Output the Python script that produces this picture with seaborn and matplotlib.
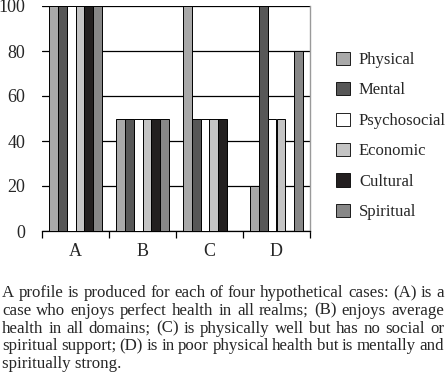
import matplotlib
matplotlib.use("Agg")
import matplotlib.pyplot as plt
import seaborn as sns
import pandas as pd

cases = ["A", "B", "C", "D"]
domains = ["Physical", "Mental", "Psychosocial", "Economic", "Cultural", "Spiritual"]
physical = [100, 50, 100, 20]
mental = [100, 50, 50, 100]
psychosocial = [100, 50, 50, 50]
economic = [100, 50, 50, 50]
cultural = [100, 50, 50, 0]
spiritual = [100, 50, 0, 80]
colors = ["#a9a9a9", "#575757", "#ffffff", "#c4c4c4", "#231f20", "#878787"]
y_ticks = [0, 20, 40, 60, 80, 100]

caption = [
    "A profile is produced for each of four hypothetical cases: (A) is a",
    "case who enjoys perfect health in all realms; (B) enjoys average",
    "health in all domains; (C) is physically well but has no social or",
    "spiritual support; (D) is in poor physical health but is mentally and",
    "spiritually strong.",
]

values = [physical, mental, psychosocial, economic, cultural, spiritual]
rows = []
for dom, vals in zip(domains, values):
    for case, v in zip(cases, vals):
        rows.append({"case": case, "domain": dom, "score": v})
df = pd.DataFrame(rows)

sns.set_style("white")
plt.rcParams["font.family"] = ["Liberation Serif", "DejaVu Serif"]
plt.rcParams["font.size"] = 12

fig = plt.figure(figsize=(4.46, 3.75), dpi=100)
ax = fig.add_axes([42 / 446, 1 - 231 / 375, 268 / 446, 225 / 375])

sns.barplot(data=df, x="case", y="score", hue="domain", order=cases,
            hue_order=domains, palette=colors, width=0.8,
            edgecolor="black", linewidth=0.7, ax=ax, legend=False, zorder=3)

ax.set_ylim(0, 100)
ax.set_xlim(-0.5, 3.5)
ax.set_yticks(y_ticks)
ax.yaxis.grid(True, color="black", linewidth=0.9, zorder=0)
ax.set_axisbelow(True)
ax.set_xlabel("")
ax.set_ylabel("")

# boundary ticks below the axis, labels centred in each group
ax.set_xticks([-0.5, 0.5, 1.5, 2.5, 3.5])
ax.set_xticklabels([])
ax.set_xticks(range(len(cases)), minor=True)
ax.set_xticklabels(cases, minor=True)
ax.tick_params(axis="x", which="major", direction="out", length=5,
               width=0.9, color="black", bottom=True)
ax.tick_params(axis="x", which="minor", length=0, pad=9, labelsize=13)
ax.tick_params(axis="y", length=0, pad=12, labelsize=13)

ax.spines["left"].set_visible(False)
ax.spines["top"].set_visible(False)
ax.spines["bottom"].set_color("black")
ax.spines["bottom"].set_linewidth(0.9)
ax.spines["right"].set_color("#9a9a9a")
ax.spines["right"].set_linewidth(1.0)

handles = [plt.Rectangle((0, 0), 1, 1, facecolor=c, edgecolor="black",
                         linewidth=0.6) for c in colors]
fig.legend(handles, domains, loc="upper left",
           bbox_to_anchor=(329 / 446, 1 - 45 / 375), frameon=False,
           handlelength=0.85, handleheight=0.85, handletextpad=0.55,
           labelspacing=0.84, fontsize=12, borderaxespad=0)

# justified caption
renderer = fig.canvas.get_renderer()
x0, x1 = 2 / 446, 444 / 446
for i, line in enumerate(caption):
    y = 1 - (297 + i * 17.8) / 375
    if i == len(caption) - 1:
        fig.text(x0, y, line, fontsize=12.2, va="baseline", ha="left")
        continue
    words = line.split()
    texts = [fig.text(0, y, w, fontsize=12.2, va="baseline", ha="left") for w in words]
    widths = [t.get_window_extent(renderer).width / fig.bbox.width for t in texts]
    gap = (x1 - x0 - sum(widths)) / (len(words) - 1)
    x = x0
    for t, w in zip(texts, widths):
        t.set_x(x)
        x += w + gap

fig.savefig("out.png", dpi=100)
